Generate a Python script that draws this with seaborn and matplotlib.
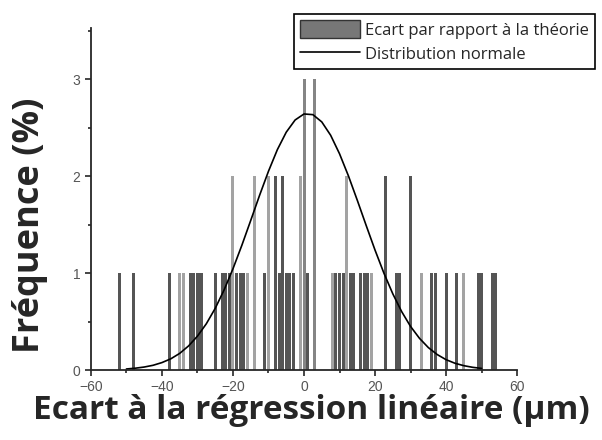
import numpy as np
import pandas as pd
import matplotlib
matplotlib.use("Agg")
import matplotlib.pyplot as plt
from matplotlib.patches import Patch
from matplotlib.lines import Line2D
from matplotlib.ticker import MultipleLocator
import seaborn as sns

# bars: position (µm), frequency (%), shade
bar_x = [-52, -48, -38, -35, -34, -32, -31, -30, -29, -25, -23, -22, -21, -20,
         -19, -18, -17, -16, -14, -11, -10, -8, -7, -6, -5, -4, -3, -1, 0, 1,
         3, 8, 9, 10, 11, 12, 13, 14, 16, 17, 18, 19, 23, 26, 27, 30, 33,
         36, 37, 40, 43, 45, 49, 50, 53, 54]
bar_y = [1, 1, 1, 1, 1, 1, 1, 1, 1, 1, 1, 1, 1, 2,
         1, 1, 1, 1, 2, 1, 2, 2, 1, 2, 1, 1, 1, 2, 3, 1,
         3, 1, 1, 1, 1, 2, 1, 1, 1, 1, 1, 1, 2, 1, 1, 2, 1,
         1, 1, 1, 1, 1, 1, 1, 1, 1]
bar_shade = ["d", "d", "d", "l", "l", "d", "d", "d", "d", "d", "d", "d", "d", "l",
             "d", "d", "d", "l", "l", "d", "l", "d", "d", "d", "d", "d", "d", "l", "m", "d",
             "m", "l", "d", "d", "d", "l", "d", "d", "d", "d", "d", "l", "d", "d", "d", "d", "l",
             "d", "d", "d", "d", "l", "d", "d", "d", "d"]

# normal distribution curve
curve_x = [-50, -47.5, -45, -42.5, -40, -37.5, -35, -32.5, -30, -27.5, -25, -22.5,
           -20, -17.5, -15, -12.5, -10, -7.5, -5, -2.5, 0, 2.5, 5, 7.5, 10, 12.5,
           15, 17.5, 20, 22.5, 25, 27.5, 30, 32.5, 35, 37.5, 40, 42.5, 45, 47.5, 50]
curve_y = [0.011, 0.019, 0.031, 0.049, 0.077, 0.116, 0.172, 0.249, 0.35, 0.478,
           0.637, 0.827, 1.046, 1.288, 1.545, 1.805, 2.053, 2.276, 2.456, 2.582,
           2.644, 2.637, 2.562, 2.424, 2.233, 2.005, 1.753, 1.493, 1.238, 1.0,
           0.787, 0.603, 0.45, 0.328, 0.232, 0.16, 0.107, 0.07, 0.045, 0.028, 0.017]

df = pd.DataFrame({"x": bar_x, "y": bar_y, "shade": bar_shade})
shades = {"d": "#555555", "l": "#a3a3a3", "m": "#858585"}

sns.set_style("ticks")
plt.rcParams["font.family"] = ["Liberation Sans", "DejaVu Sans"]
label_font = ["Open Sans", "DejaVu Sans"]

fig = plt.figure(figsize=(6.02, 4.4), dpi=100)
ax = fig.add_axes([0.151, 0.159, 0.708, 0.777])

sns.barplot(data=df, x="x", y="y", hue="shade", palette=shades, native_scale=True,
            dodge=False, width=0.85, linewidth=0, legend=False, ax=ax)
sns.lineplot(x=curve_x, y=curve_y, color="black", linewidth=1.2, ax=ax)

ax.set_xlim(-60, 60)
ax.set_ylim(0, 3.53)
ax.xaxis.set_major_locator(MultipleLocator(20))
ax.xaxis.set_minor_locator(MultipleLocator(10))
ax.yaxis.set_major_locator(MultipleLocator(1))
ax.yaxis.set_minor_locator(MultipleLocator(0.5))
ax.tick_params(which="major", length=4, width=1.2, labelsize=10, labelcolor="#555555")
ax.tick_params(which="minor", length=2.5, width=1.2)
sns.despine(ax=ax)
for s in ["left", "bottom"]:
    ax.spines[s].set_linewidth(1.3)

ax.set_xlabel("")
ax.set_ylabel("")
fig.text(0.517, 0.068, "Ecart à la régression linéaire (µm)", fontsize=24,
         fontweight="bold", family=label_font, ha="center", va="center")
fig.text(0.05, 0.489, "Fréquence (%)", fontsize=26, fontweight="bold",
         family=label_font, ha="center", va="center", rotation=90)

handles = [Patch(facecolor="#777777", edgecolor="#333333"),
           Line2D([0], [0], color="black", linewidth=1.2)]
leg = fig.legend(handles, ["Ecart par rapport à la théorie", "Distribution normale"],
                 loc="upper right", bbox_to_anchor=(0.988, 0.968), fancybox=False,
                 framealpha=1, edgecolor="black", borderpad=0.35,
                 handlelength=3.6, handleheight=1.3, handletextpad=0.3,
                 labelspacing=0.35, borderaxespad=0,
                 prop={"family": label_font, "size": 12})
leg.get_frame().set_linewidth(1.2)

fig.savefig("out.png", dpi=100)
